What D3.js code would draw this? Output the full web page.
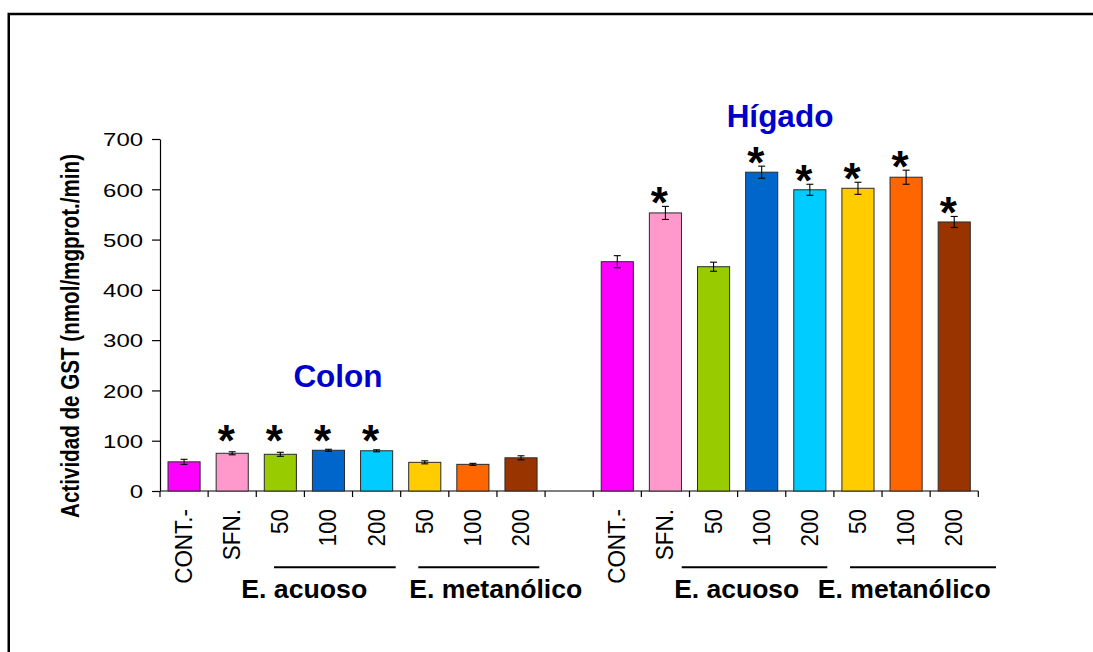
<!DOCTYPE html>
<html>
<head>
<meta charset="utf-8">
<script src="https://cdn.jsdelivr.net/npm/d3@7"></script>
<style>
  html, body { margin: 0; padding: 0; background: #fff; }
  svg { display: block; }
  text { font-family: "Liberation Sans", Arial, sans-serif; }
</style>
</head>
<body>
<svg id="chart" width="1093" height="652"></svg>
<script>
// ---- data ----
const groupLabels = ["CONT.-", "SFN.", "50", "100", "200", "50", "100", "200"];
const barColors = ["#FF00FF", "#FF99CC", "#99CC00", "#0066CC", "#00CCFF", "#FFCC00", "#FF6600", "#993300"];

const colonValues  = [58, 75, 73, 81, 80, 57, 53, 66];
const colonErrors  = [5, 3, 4, 2, 2, 3, 2, 4];
const colonSig     = [false, true, true, true, true, false, false, false];

const liverValues  = [456, 553, 446, 634, 599, 602, 624, 535];
const liverErrors  = [12, 13, 9, 12, 11, 12, 14, 11];
const liverSig     = [false, true, false, true, true, true, true, true];

const yTicks = [0, 100, 200, 300, 400, 500, 600, 700];
const yLabel = "Actividad de GST (nmol/mgprot./min)";
const extractNames = ["E. acuoso", "E. metanólico"];

// ---- layout ----
const svg = d3.select("#chart");
const plot = { left: 160, right: 978.3, top: 139, bottom: 491 };
const FONT = '"Liberation Sans", Arial, sans-serif';

svg.append("rect").attr("width", 1093).attr("height", 652).attr("fill", "#fff");
// outer frame (runs off the right and bottom edges)
svg.append("rect")
  .attr("x", 8.75).attr("y", 14).attr("width", 1300).attr("height", 900)
  .attr("fill", "none").attr("stroke", "#000").attr("stroke-width", 2.5);

// one band per bar, with an empty slot between the two tissues
const colonKeys = colonValues.map((_, i) => "colon-" + i);
const liverKeys = liverValues.map((_, i) => "liver-" + i);
const domain = [...colonKeys, "gap", ...liverKeys];

const x = d3.scaleBand().domain(domain)
  .range([plot.left, plot.right])
  .paddingInner(0.333).paddingOuter(0.1665);
const y = d3.scaleLinear().domain([0, 700]).range([plot.bottom, plot.top]);

const bars = [
  ...colonValues.map((v, i) => ({ key: colonKeys[i], v, e: colonErrors[i], sig: colonSig[i], color: barColors[i], label: groupLabels[i], tissue: "colon" })),
  ...liverValues.map((v, i) => ({ key: liverKeys[i], v, e: liverErrors[i], sig: liverSig[i], color: barColors[i], label: groupLabels[i], tissue: "liver" }))
];

// ---- y axis ----
const yAxis = svg.append("g")
  .attr("transform", `translate(${plot.left},0)`)
  .call(d3.axisLeft(y).tickValues(yTicks).tickSize(8).tickSizeOuter(0).tickPadding(9));
yAxis.select(".domain").attr("stroke", "#000").attr("stroke-width", 1.2);
yAxis.selectAll(".tick line").attr("stroke", "#000").attr("stroke-width", 1.2);
yAxis.selectAll(".tick text")
  .attr("font-family", FONT).attr("font-size", 19).attr("fill", "#000")
  .attr("dy", "0.36em")
  .each(function () {
    const w = this.getComputedTextLength();
    d3.select(this).attr("textLength", w * 1.26).attr("lengthAdjust", "spacingAndGlyphs");
  });

// ---- x axis: baseline with ticks between categories ----
const gap = x.step() - x.bandwidth();
const boundaries = domain.map(k => x(k) - gap / 2).concat([x(domain[domain.length - 1]) + x.bandwidth() + gap / 2]);
svg.append("line")
  .attr("x1", plot.left).attr("x2", plot.right)
  .attr("y1", plot.bottom).attr("y2", plot.bottom)
  .attr("stroke", "#000").attr("stroke-width", 1.2);
svg.append("g").selectAll("line").data(boundaries).join("line")
  .attr("x1", d => d).attr("x2", d => d)
  .attr("y1", plot.bottom).attr("y2", plot.bottom + 6)
  .attr("stroke", "#000").attr("stroke-width", 1.2);

// ---- bars ----
svg.append("g").selectAll("rect").data(bars).join("rect")
  .attr("x", d => x(d.key))
  .attr("y", d => y(d.v))
  .attr("width", x.bandwidth())
  .attr("height", d => y(0) - y(d.v))
  .attr("fill", d => d.color)
  .attr("stroke", "#2a2a2a").attr("stroke-width", 1);

// ---- error bars ----
const cx = d => x(d.key) + x.bandwidth() / 2;
const err = svg.append("g").attr("stroke", "#000").attr("stroke-width", 1.1);
err.selectAll("line.v").data(bars).join("line").attr("class", "v")
  .attr("x1", cx).attr("x2", cx)
  .attr("y1", d => y(d.v + d.e)).attr("y2", d => y(d.v - d.e));
err.selectAll("line.t").data(bars).join("line").attr("class", "t")
  .attr("x1", d => cx(d) - 3.5).attr("x2", d => cx(d) + 3.5)
  .attr("y1", d => y(d.v + d.e)).attr("y2", d => y(d.v + d.e));
err.selectAll("line.b").data(bars).join("line").attr("class", "b")
  .attr("x1", d => cx(d) - 3.5).attr("x2", d => cx(d) + 3.5)
  .attr("y1", d => y(d.v - d.e)).attr("y2", d => y(d.v - d.e));

// ---- significance marks ----
const starSize = 44;
svg.append("g").selectAll("text").data(bars.filter(d => d.sig)).join("text")
  .attr("x", d => cx(d) - 6)
  .attr("y", d => Math.min(y(d.v + d.e) - 13, plot.bottom - 60) + starSize * 0.56)
  .attr("text-anchor", "middle")
  .attr("font-family", FONT).attr("font-weight", "bold").attr("font-size", starSize)
  .attr("fill", "#000")
  .text("*");

// ---- category labels (rotated) ----
svg.append("g").selectAll("text").data(bars).join("text")
  .attr("transform", d => `translate(${cx(d) + 8},${plot.bottom + 18}) rotate(-90) scale(1,1.12)`)
  .attr("text-anchor", "end")
  .attr("font-family", FONT).attr("font-size", 21).attr("fill", "#000")
  .text(d => d.label)
  .each(function () {
    const w = this.getComputedTextLength();
    d3.select(this).attr("textLength", w * 1.07).attr("lengthAdjust", "spacingAndGlyphs");
  });

// ---- extract group rules and names ----
const groupMarks = [
  { x1: 274, x2: 395.7, tx: 304.2, name: extractNames[0], w: 126 },
  { x1: 418.3, x2: 539.3, tx: 495.8, name: extractNames[1], w: 173 },
  { x1: 681.7, x2: 827.3, tx: 736.7, name: extractNames[0], w: 125 },
  { x1: 850, x2: 996, tx: 904.2, name: extractNames[1], w: 173 }
];
svg.append("g").selectAll("line").data(groupMarks).join("line")
  .attr("x1", d => d.x1).attr("x2", d => d.x2)
  .attr("y1", 567.3).attr("y2", 567.3)
  .attr("stroke", "#000").attr("stroke-width", 2);
svg.append("g").selectAll("text").data(groupMarks).join("text")
  .attr("x", d => d.tx).attr("y", 598)
  .attr("text-anchor", "middle")
  .attr("font-family", FONT).attr("font-weight", "bold").attr("font-size", 25)
  .attr("textLength", d => d.w).attr("lengthAdjust", "spacingAndGlyphs")
  .attr("fill", "#000")
  .text(d => d.name);

// ---- tissue titles ----
svg.append("text").attr("x", 338).attr("y", 386.5)
  .attr("text-anchor", "middle").attr("font-family", FONT).attr("font-weight", "bold")
  .attr("font-size", 31.5).attr("fill", "#0000CC").text("Colon");
svg.append("text").attr("x", 780).attr("y", 126.5)
  .attr("text-anchor", "middle").attr("font-family", FONT).attr("font-weight", "bold")
  .attr("font-size", 31.5).attr("fill", "#0000CC").text("Hígado");

// ---- y axis title ----
svg.append("text")
  .attr("transform", "translate(79,336) rotate(-90) scale(1,1.32)")
  .attr("text-anchor", "middle")
  .attr("font-family", FONT).attr("font-weight", "bold").attr("font-size", 19)
  .attr("textLength", 364).attr("lengthAdjust", "spacingAndGlyphs")
  .attr("fill", "#000")
  .text(yLabel);
</script>
</body>
</html>
